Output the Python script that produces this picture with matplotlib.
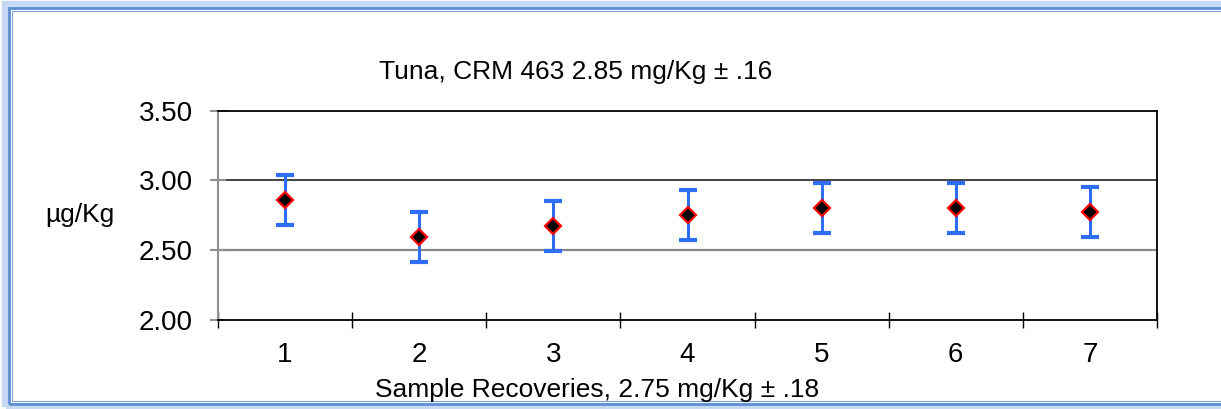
import matplotlib.pyplot as plt
from matplotlib.patches import Rectangle

plt.rcParams['font.family'] = ['Liberation Sans', 'DejaVu Sans']

samples = [1, 2, 3, 4, 5, 6, 7]
recovery = [2.86, 2.59, 2.67, 2.75, 2.80, 2.80, 2.77]
err = [0.18, 0.18, 0.18, 0.18, 0.18, 0.18, 0.18]
yticks = [2.00, 2.50, 3.00, 3.50]

W, H = 1221, 409
fig = plt.figure(figsize=(W / 100, H / 100), dpi=100)

# blue frame round the chart
def px_rect(x0, y0, x1, y1, **kw):
    r = Rectangle((x0 / W, 1 - y1 / H), (x1 - x0) / W, (y1 - y0) / H,
                  transform=fig.transFigure, fill=False, **kw)
    fig.patches.append(r)

px_rect(6, 5, 1240, 407, lw=6, edgecolor='#c8daf3')
px_rect(9, 8, 1240, 404, lw=2, edgecolor='#5f8fd2')
px_rect(12, 11, 1240, 401, lw=0.8, edgecolor='#7fa4dc')

ax = fig.add_axes([218 / W, 1 - 319.5 / H, (1157 - 218) / W, (319.5 - 110.7) / H])

ax.errorbar(samples, recovery, yerr=err, fmt='none', ecolor='#2d6ef5',
            elinewidth=2.2, capsize=6.5, capthick=3, zorder=3)
ax.plot(samples, recovery, linestyle='none', marker='D', markersize=8.5,
        markerfacecolor='black', markeredgecolor='red', markeredgewidth=1.6,
        zorder=4)

ax.set_xlim(0.5, 7.5)
ax.set_ylim(2.0, 3.5)
ax.set_xticks(samples)
ax.set_xticks([i + 0.5 for i in range(0, 8)], minor=True)
ax.set_yticks(yticks)
ax.set_yticklabels(['%.2f' % v for v in yticks])

ax.tick_params(axis='x', which='major', length=0, pad=16, labelsize=20)
ax.tick_params(axis='x', which='minor', direction='inout', length=11.5,
               width=1, color='black')
ax.tick_params(axis='y', direction='inout', length=12, width=1.5,
               color='#909090', pad=12, labelsize=20)

ax.grid(axis='y', zorder=1)
for v, gl in zip(yticks, ax.get_ygridlines()):
    if v == 3.0:
        gl.set_color('#222222')
        gl.set_linewidth(1.2)
    elif v == 2.5:
        gl.set_color('#888888')
        gl.set_linewidth(1.6)
    else:
        gl.set_visible(False)

ax.spines['left'].set_color('#909090')
ax.spines['left'].set_linewidth(1.5)
for s in ['top', 'right', 'bottom']:
    ax.spines[s].set_color('black')
    ax.spines[s].set_linewidth(1.3)

fig.text(575.5 / W, 1 - 79 / H, 'Tuna, CRM 463 2.85 mg/Kg \u00b1 .16',
         ha='center', va='baseline', fontsize=19)
fig.text(597.5 / W, 1 - 397 / H, 'Sample Recoveries, 2.75 mg/Kg \u00b1 .18',
         ha='center', va='baseline', fontsize=19)
fig.text(45 / W, 1 - 221.7 / H, '\u00b5g/Kg', ha='left', va='baseline',
         fontsize=19)

fig.savefig('out.png', dpi=100)
